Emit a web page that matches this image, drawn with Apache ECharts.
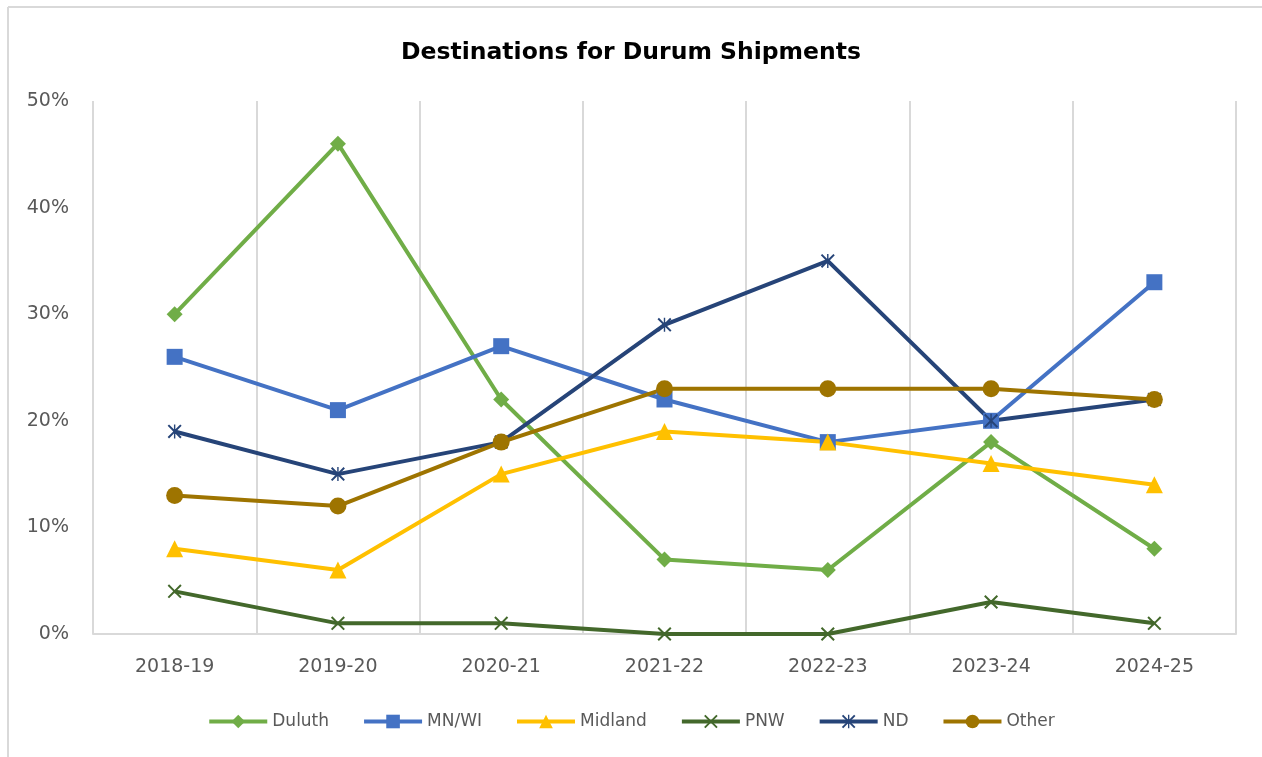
<!DOCTYPE html>
<html>
<head>
<meta charset="utf-8">
<script src="https://cdn.jsdelivr.net/npm/echarts@6/dist/echarts.min.js"></script>
<style>
	html, body { margin: 0; padding: 0; background: #fff; }
	#chart { width: 1262px; height: 757px; }
</style>
</head>
<body>
<div id="chart"></div>
<script>
var seasons = ['2018-19', '2019-20', '2020-21', '2021-22', '2022-23', '2023-24', '2024-25'];
var yTicks = [0, 10, 20, 30, 40, 50];

var duluth = [30, 46, 22, 7, 6, 18, 8];
var mnwi = [26, 21, 27, 22, 18, 20, 33];
var midland = [8, 6, 15, 19, 18, 16, 14];
var pnw = [4, 1, 1, 0, 0, 3, 1];
var nd = [19, 15, 18, 29, 35, 20, 22];
var other = [13, 12, 18, 23, 23, 23, 22];

var xMark = 'path://M1,0 L5,4 L9,0 L10,1 L6,5 L10,9 L9,10 L5,6 L1,10 L0,9 L4,5 L0,1 Z';
var starMark = 'path://M1,0 L5,4 L9,0 L10,1 L6,5 L10,9 L9,10 L5,6 L1,10 L0,9 L4,5 L0,1 Z M4.5,0 L5.5,0 L5.5,10 L4.5,10 Z';

var fontName = '"DejaVu Sans", sans-serif';
var frameColor = '#d9d9d9';

function lineSeries(name, data, color, symbol, size) {
	return {
		name: name,
		type: 'line',
		data: data,
		symbol: symbol,
		symbolSize: size,
		showAllSymbol: true,
		lineStyle: {color: color, width: 4},
		itemStyle: {color: color},
		emphasis: {disabled: true}
	};
}

var chart = echarts.init(document.getElementById('chart'));

var options = {
	animation: false,
	backgroundColor: '#fff',
	title: {
		text: 'Destinations for Durum Shipments',
		left: 'center',
		top: 36,
		textStyle: {fontFamily: fontName, fontSize: 23.5, fontWeight: 'bold', color: '#000'}
	},
	// outer chart frame, only left and top edges show in the crop
	graphic: [
		{type: 'line', shape: {x1: 8, y1: 7, x2: 8, y2: 757}, style: {stroke: frameColor, lineWidth: 2}, silent: true},
		{type: 'line', shape: {x1: 8, y1: 7, x2: 1262, y2: 7}, style: {stroke: frameColor, lineWidth: 2}, silent: true}
	],
	legend: {
		bottom: 22,
		left: 'center',
		itemWidth: 58,
		itemHeight: 17,
		itemGap: 33,
		lineStyle: {width: 4},
		textStyle: {fontFamily: fontName, fontSize: 17, color: '#595959'},
		data: ['Duluth', 'MN/WI', 'Midland', 'PNW', 'ND', 'Other']
	},
	grid: {left: 93, right: 26, top: 101, bottom: 123},
	xAxis: {
		type: 'category',
		data: seasons,
		boundaryGap: true,
		axisLine: {lineStyle: {color: frameColor, width: 2}},
		axisTick: {show: false},
		axisLabel: {fontFamily: fontName, fontSize: 19, color: '#595959', margin: 24},
		splitLine: {show: true, lineStyle: {color: frameColor, width: 2}}
	},
	yAxis: {
		type: 'value',
		min: yTicks[0],
		max: yTicks[yTicks.length - 1],
		interval: 10,
		axisLine: {show: false},
		axisTick: {show: false},
		splitLine: {show: false},
		axisLabel: {fontFamily: fontName, fontSize: 19, color: '#595959', margin: 24, formatter: '{value}%'}
	},
	series: [
		lineSeries('Duluth', duluth, '#70ad47', 'diamond', 16),
		lineSeries('MN/WI', mnwi, '#4472c4', 'rect', 16),
		lineSeries('Midland', midland, '#ffc000', 'triangle', 17),
		lineSeries('PNW', pnw, '#43682b', xMark, 14),
		lineSeries('ND', nd, '#264478', starMark, 14),
		lineSeries('Other', other, '#9e7400', 'circle', 17)
	]
};

chart.setOption(options);
</script>
</body>
</html>
